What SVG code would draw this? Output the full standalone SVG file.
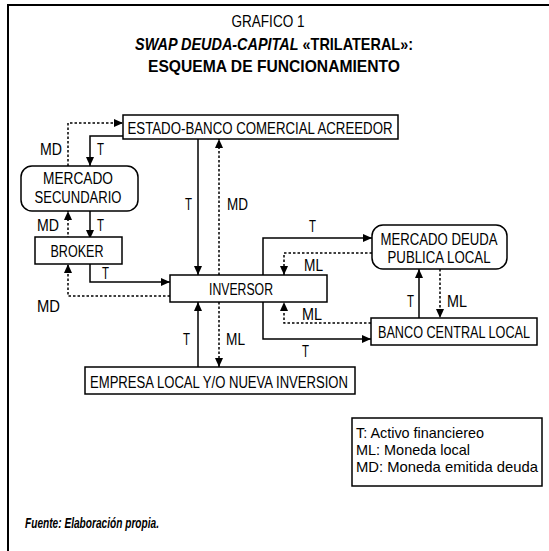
<svg xmlns="http://www.w3.org/2000/svg" width="549" height="551" viewBox="0 0 549 551">
<defs>
<marker id="ah" markerWidth="9" markerHeight="8" refX="9" refY="4" orient="auto" markerUnits="userSpaceOnUse">
<path d="M0,0 L9,4 L0,8 Z" fill="#000"/>
</marker>
<style>
text{font-family:"Liberation Sans",Arial,sans-serif;fill:#000}
.n{font-size:16px;text-anchor:middle}
.l{font-size:16px}
.g{font-size:15px}
.box{fill:#fff;stroke:#000;stroke-width:1.5}
.s{fill:none;stroke:#000;stroke-width:1.5;marker-end:url(#ah)}
.d{fill:none;stroke:#000;stroke-width:1.5;stroke-dasharray:2.5,2;marker-end:url(#ah)}
.t{font-size:17px;font-weight:bold}
</style>
</defs>
<rect width="549" height="551" fill="#fff"/>
<path d="M8,551 V5 H549" fill="none" stroke="#000" stroke-width="2"/>
<g id="title">
<text x="268" y="27" font-size="16" text-anchor="middle" textLength="73" lengthAdjust="spacingAndGlyphs">GRAFICO 1</text>
<text class="t" x="274" y="50" text-anchor="middle" textLength="278" lengthAdjust="spacingAndGlyphs"><tspan font-style="italic">SWAP DEUDA-CAPITAL</tspan> «TRILATERAL»:</text>
<text class="t" x="274" y="72" text-anchor="middle" textLength="252" lengthAdjust="spacingAndGlyphs">ESQUEMA DE FUNCIONAMIENTO</text>
</g>
<g id="connectors">
<path class="d" d="M68,166 V123 H123"/>
<path class="s" d="M123,136 H90 V166"/>
<path class="d" d="M68,239 V211"/>
<path class="s" d="M90,211 V239"/>
<path class="s" d="M90,264 V282 H170"/>
<path class="d" d="M170,296 H68 V264"/>
<path class="s" d="M198,139 V275"/>
<path class="d" d="M219,275 V139"/>
<path class="s" d="M198,367 V302"/>
<path class="d" d="M219,302 V367"/>
<path class="s" d="M263,275 V238 H372"/>
<path class="d" d="M372,253 H284 V275"/>
<path class="s" d="M419,318 V269"/>
<path class="d" d="M440,269 V318"/>
<path class="d" d="M371,323 H284 V302"/>
<path class="s" d="M263,302 V339 H371"/>
</g>
<g id="labels">
<text class="l" x="40" y="155" textLength="22" lengthAdjust="spacingAndGlyphs">MD</text>
<text class="l" x="97" y="155" textLength="7" lengthAdjust="spacingAndGlyphs">T</text>
<text class="l" x="37" y="231" textLength="22" lengthAdjust="spacingAndGlyphs">MD</text>
<text class="l" x="97" y="231" textLength="7" lengthAdjust="spacingAndGlyphs">T</text>
<text class="l" x="102" y="279" textLength="7" lengthAdjust="spacingAndGlyphs">T</text>
<text class="l" x="37" y="312" textLength="23" lengthAdjust="spacingAndGlyphs">MD</text>
<text class="l" x="185" y="210" textLength="7" lengthAdjust="spacingAndGlyphs">T</text>
<text class="l" x="227" y="210" textLength="21" lengthAdjust="spacingAndGlyphs">MD</text>
<text class="l" x="183" y="345" textLength="7" lengthAdjust="spacingAndGlyphs">T</text>
<text class="l" x="226" y="345" textLength="19" lengthAdjust="spacingAndGlyphs">ML</text>
<text class="l" x="309" y="232" textLength="7" lengthAdjust="spacingAndGlyphs">T</text>
<text class="l" x="304" y="271" textLength="19" lengthAdjust="spacingAndGlyphs">ML</text>
<text class="l" x="302" y="320" textLength="20" lengthAdjust="spacingAndGlyphs">ML</text>
<text class="l" x="302" y="357" textLength="7" lengthAdjust="spacingAndGlyphs">T</text>
<text class="l" x="407" y="307" textLength="7" lengthAdjust="spacingAndGlyphs">T</text>
<text class="l" x="447" y="307" textLength="20" lengthAdjust="spacingAndGlyphs">ML</text>
</g>
<g id="estado">
<rect class="box" x="123" y="115" width="275" height="24"/>
<text class="n" x="260" y="134" textLength="265" lengthAdjust="spacingAndGlyphs">ESTADO-BANCO COMERCIAL ACREEDOR</text>
</g>
<g id="mercado-secundario">
<rect class="box" x="21" y="166" width="117" height="45" rx="11"/>
<text class="n" x="78" y="184" textLength="70" lengthAdjust="spacingAndGlyphs">MERCADO</text>
<text class="n" x="78" y="203" textLength="87" lengthAdjust="spacingAndGlyphs">SECUNDARIO</text>
</g>
<g id="broker">
<rect class="box" x="35" y="237" width="87" height="27"/>
<text class="n" x="77" y="257" textLength="53" lengthAdjust="spacingAndGlyphs">BROKER</text>
</g>
<g id="inversor">
<rect class="box" x="170" y="275" width="157" height="27"/>
<text class="n" x="241" y="295" textLength="64" lengthAdjust="spacingAndGlyphs">INVERSOR</text>
</g>
<g id="empresa">
<rect class="box" x="85" y="367" width="270" height="27"/>
<text class="n" x="219" y="388" textLength="258" lengthAdjust="spacingAndGlyphs">EMPRESA LOCAL Y/O NUEVA INVERSION</text>
</g>
<g id="mercado-deuda">
<rect class="box" x="372" y="225" width="135" height="44" rx="11"/>
<text class="n" x="439" y="245" textLength="117" lengthAdjust="spacingAndGlyphs">MERCADO DEUDA</text>
<text class="n" x="439" y="263" textLength="103" lengthAdjust="spacingAndGlyphs">PUBLICA LOCAL</text>
</g>
<g id="banco-central">
<rect class="box" x="371" y="318" width="166" height="27"/>
<text class="n" x="454" y="338" font-size="15.5" textLength="152" lengthAdjust="spacingAndGlyphs">BANCO CENTRAL LOCAL</text>
</g>
<g id="legend">
<rect class="box" x="352" y="418" width="190" height="68" stroke-width="1.2"/>
<text class="g" x="356" y="438" textLength="128" lengthAdjust="spacingAndGlyphs">T: Activo financiereo</text>
<text class="g" x="356" y="455" textLength="114" lengthAdjust="spacingAndGlyphs">ML: Moneda local</text>
<text class="g" x="356" y="472" textLength="182" lengthAdjust="spacingAndGlyphs">MD: Moneda emitida deuda</text>
</g>
<text x="25" y="528" font-size="15" font-style="italic" font-weight="bold" textLength="134" lengthAdjust="spacingAndGlyphs">Fuente: Elaboración propia.</text>
</svg>
